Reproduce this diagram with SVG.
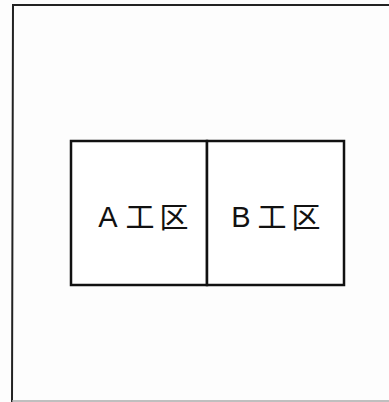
<svg xmlns="http://www.w3.org/2000/svg" width="389" height="402" viewBox="0 0 389 402">
<style>
.frame{fill:none;stroke:#222;stroke-width:2}
.box{fill:#fff;stroke:#111;stroke-width:2.5}
.lat{font-family:"Liberation Sans",Arial,sans-serif;font-size:29px;fill:#111;text-anchor:middle}
.cjk{font-family:"Noto Sans CJK JP",sans-serif;font-size:29px;font-weight:400;fill:#111;text-anchor:middle}
</style>
<rect width="389" height="402" fill="#fdfdfd"/>
<g id="frame">
<polyline class="frame" points="389,5 13,5 12,402"/>
<line x1="12" y1="401" x2="389" y2="401" stroke="#aaa" stroke-width="1.5"/>
</g>
<g id="zone-a">
<rect class="box" x="71" y="141" width="136" height="144"/>
<text class="lat" x="108" y="227">A</text>
<text class="cjk" x="140" y="228">工</text>
<text class="cjk" x="174" y="228">区</text>
</g>
<g id="zone-b">
<rect class="box" x="207" y="141" width="137" height="144"/>
<text class="lat" x="241" y="227">B</text>
<text class="cjk" x="272" y="228">工</text>
<text class="cjk" x="306" y="228">区</text>
</g>
<g id="connectors"></g>
</svg>
